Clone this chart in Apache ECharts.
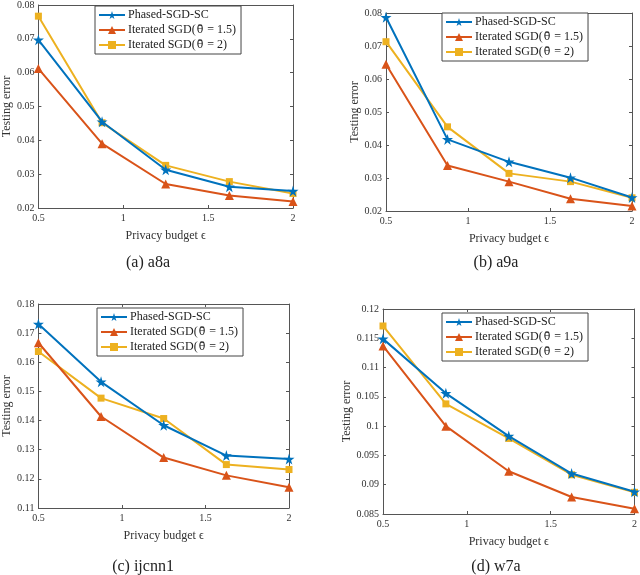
<!DOCTYPE html>
<html>
<head>
<meta charset="utf-8">
<script src="https://cdn.jsdelivr.net/npm/echarts@6/dist/echarts.min.js"></script>
<style>
html,body{margin:0;padding:0;background:#fff;}
#chart{width:640px;height:575px;}
</style>
</head>
<body>
<div id="chart"></div>
<script>
// ---- data ----
var epsilon = [0.5, 0.875, 1.25, 1.625, 2];
var seriesNames = ['Phased-SGD-SC', 'Iterated SGD(θ̄ = 1.5)', 'Iterated SGD(θ̄ = 2)'];
var panelCaptions = ['(a) a8a', '(b) a9a', '(c) ijcnn1', '(d) w7a'];

var a8aPhased = [0.0697, 0.0455, 0.0313, 0.0263, 0.0250];
var a8aIter15 = [0.0612, 0.0390, 0.0271, 0.0237, 0.0219];
var a8aIter2  = [0.0767, 0.0452, 0.0326, 0.0278, 0.0243];

var a9aPhased = [0.0787, 0.0417, 0.0349, 0.0301, 0.0241];
var a9aIter15 = [0.0645, 0.0338, 0.0289, 0.0237, 0.0215];
var a9aIter2  = [0.0713, 0.0455, 0.0314, 0.0289, 0.0240];

var ijcnn1Phased = [0.1731, 0.1533, 0.1384, 0.1280, 0.1268];
var ijcnn1Iter15 = [0.1667, 0.1414, 0.1273, 0.1212, 0.1171];
var ijcnn1Iter2  = [0.1637, 0.1477, 0.1407, 0.1249, 0.1232];

var w7aPhased = [0.1149, 0.1056, 0.0983, 0.0919, 0.0888];
var w7aIter15 = [0.1137, 0.1000, 0.0923, 0.0879, 0.0859];
var w7aIter2  = [0.1171, 0.1038, 0.0979, 0.0917, 0.0887];

var xTicks = {min: 0.5, max: 2, interval: 0.5};
var yRanges = [
  {min: 0.02, max: 0.08, interval: 0.01},
  {min: 0.02, max: 0.08, interval: 0.01},
  {min: 0.11, max: 0.18, interval: 0.01},
  {min: 0.085, max: 0.12, interval: 0.005}
];
var panelData = [
  [a8aPhased, a8aIter15, a8aIter2],
  [a9aPhased, a9aIter15, a9aIter2],
  [ijcnn1Phased, ijcnn1Iter15, ijcnn1Iter2],
  [w7aPhased, w7aIter15, w7aIter2]
];

// ---- layout / style ----
var FONT = 'Liberation Serif';
var colors = ['#0072BD', '#D95319', '#EDB120'];
var starPath = 'path://M50,0 L61,35 L98,35 L68,57 L79,91 L50,70 L21,91 L32,57 L2,35 L39,35 Z';
var symbols = [starPath, 'triangle', 'rect'];
var symbolSizes = [11, 9, 7];
var grids = [
  {left: 38, top: 4, width: 255, height: 204},
  {left: 386, top: 13, width: 246, height: 198},
  {left: 37, top: 304, width: 252, height: 204},
  {left: 383, top: 309, width: 252, height: 205}
];
var legendPos = [
  {left: 95, top: 6},
  {left: 442, top: 13},
  {left: 97, top: 308},
  {left: 442, top: 313}
];
var yNameGaps = [25, 25, 24, 30];
var captionPos = [[148, 263], [496, 263], [143, 567], [496, 567]];

var axisColor = '#555';
function fmt(v){ return String(+v.toFixed(4)); }
function legendFmt(name){
  var k = name.indexOf('θ̄');
  if (k < 0) return '{a|' + name + '}';
  return '{a|' + name.slice(0, k) + '}{t|θ̄}{a|' + name.slice(k + 2) + '}';
}

var xAxes = [], yAxes = [], series = [], legends = [], graphics = [];
for (var i = 0; i < 4; i++) {
  xAxes.push({
    gridIndex: i, type: 'value', position: 'bottom',
    min: xTicks.min, max: xTicks.max, interval: xTicks.interval,
    name: 'Privacy budget ϵ', nameLocation: 'middle', nameGap: 22,
    nameTextStyle: {fontFamily: FONT, fontSize: 12, color: '#333'},
    axisLine: {show: true, onZero: false, lineStyle: {color: axisColor, width: 1}},
    axisTick: {show: true, inside: true, length: 3, lineStyle: {color: axisColor}},
    axisLabel: {fontFamily: FONT, fontSize: 10, color: '#333', margin: 5, formatter: fmt},
    splitLine: {show: false}
  });
  yAxes.push({
    gridIndex: i, type: 'value', position: 'left',
    min: yRanges[i].min, max: yRanges[i].max, interval: yRanges[i].interval,
    name: 'Testing error', nameLocation: 'middle', nameGap: yNameGaps[i],
    nameTextStyle: {fontFamily: FONT, fontSize: 12, color: '#333'},
    axisLine: {show: true, onZero: false, lineStyle: {color: axisColor, width: 1}},
    axisTick: {show: true, inside: true, length: 3, lineStyle: {color: axisColor}},
    axisLabel: {fontFamily: FONT, fontSize: 10, color: '#333', margin: 4, formatter: fmt},
    splitLine: {show: false}
  });
}
for (var i = 0; i < 4; i++) {
  xAxes.push({
    gridIndex: i, type: 'value', position: 'top',
    min: xTicks.min, max: xTicks.max, interval: xTicks.interval,
    axisLine: {show: true, onZero: false, lineStyle: {color: axisColor, width: 1}},
    axisTick: {show: true, inside: true, length: 3, lineStyle: {color: axisColor}},
    axisLabel: {show: false}, splitLine: {show: false}
  });
  yAxes.push({
    gridIndex: i, type: 'value', position: 'right',
    min: yRanges[i].min, max: yRanges[i].max, interval: yRanges[i].interval,
    axisLine: {show: true, onZero: false, lineStyle: {color: axisColor, width: 1}},
    axisTick: {show: true, inside: true, length: 3, lineStyle: {color: axisColor}},
    axisLabel: {show: false}, splitLine: {show: false}
  });
}
for (var i = 0; i < 4; i++) {
  for (var s = 0; s < 3; s++) {
    var vals = panelData[i][s];
    series.push({
      name: seriesNames[s], type: 'line',
      xAxisIndex: i, yAxisIndex: i,
      data: epsilon.map(function(e, j){ return [e, vals[j]]; }),
      symbol: symbols[s], symbolSize: symbolSizes[s],
      showAllSymbol: true,
      lineStyle: {color: colors[s], width: 2},
      itemStyle: {color: colors[s], borderWidth: 0},
      z: 10 - s,
      animation: false
    });
  }
  legends.push({
    left: legendPos[i].left, top: legendPos[i].top,
    orient: 'vertical', data: seriesNames,
    backgroundColor: '#fff', borderColor: '#444', borderWidth: 1,
    padding: [3, 5, 3, 3], itemGap: 3, itemWidth: 26, itemHeight: 10,
    formatter: legendFmt,
    textStyle: {
      fontFamily: FONT, fontSize: 12, color: '#222', padding: [0, 0, 0, -2],
      rich: {
        a: {fontFamily: FONT, fontSize: 12, color: '#222'},
        t: {fontFamily: 'DejaVu Serif', fontSize: 11, color: '#222', padding: [0, 1, 0, 1]}
      }
    },
    selectedMode: false
  });
  graphics.push({
    type: 'text', x: captionPos[i][0], y: captionPos[i][1],
    style: {text: panelCaptions[i], fontFamily: FONT, fontSize: 16, fill: '#222',
            textAlign: 'center', textVerticalAlign: 'middle'}
  });
}

var chart = echarts.init(document.getElementById('chart'), null, {renderer: 'canvas'});
chart.setOption({
  animation: false,
  color: colors,
  grid: grids,
  xAxis: xAxes,
  yAxis: yAxes,
  legend: legends,
  series: series,
  graphic: graphics
});
</script>
</body>
</html>
